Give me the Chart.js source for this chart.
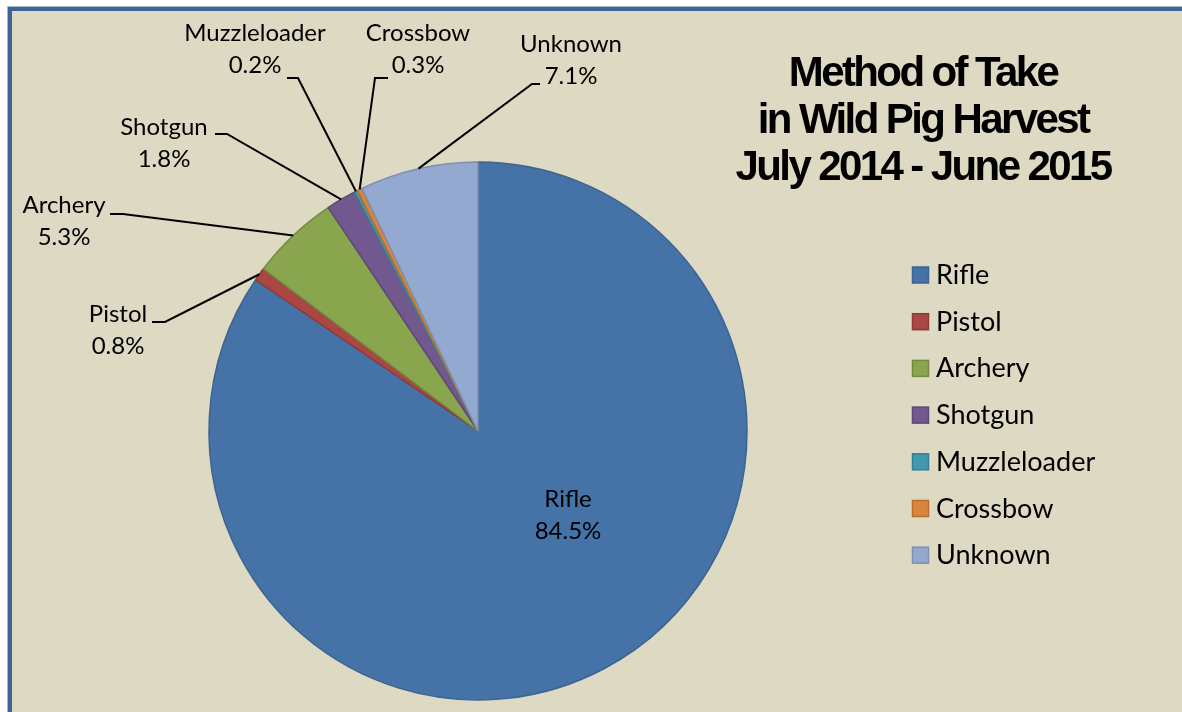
<!DOCTYPE html>
<html>
<head>
<meta charset="utf-8">
<script src="https://cdn.jsdelivr.net/npm/chart.js@4/dist/chart.umd.min.js"></script>
<style>
  html, body { margin: 0; padding: 0; background: #ffffff; overflow: hidden; width: 1182px; height: 712px; }
  #frame {
    position: absolute; left: 8px; top: 7px; width: 1400px; height: 900px;
    background: #ddd9c3; border: 4px solid #3e6494; box-shadow: 0 0 0 1px #a9b8cf;
  }
  #wrap { position: absolute; left: 0; top: 0; width: 1182px; height: 712px; }
</style>
</head>
<body>
<div id="frame"></div>
<div id="wrap"><canvas id="chart"></canvas></div>
<script>
// Data
const methods = ['Rifle', 'Pistol', 'Archery', 'Shotgun', 'Muzzleloader', 'Crossbow', 'Unknown'];
const shares = [84.5, 0.8, 5.3, 1.8, 0.2, 0.3, 7.1];
const titleLines = ['Method of Take', 'in Wild Pig Harvest', 'July 2014 - June 2015'];

const fills = ['#4572a7', '#aa4643', '#89a54e', '#71588f', '#4198af', '#db843d', '#93a9cf'];
const edges = ['#3c6391', '#8f3a37', '#728a40', '#5d4876', '#367f92', '#b86d31', '#7d91b4'];

// label placement: text centre x, first baseline, stub start x, stub end x (leader starts here), stub y
const labelSpots = [
    [568, 507, null, null, null],  // Rifle (inside)
    [118, 322, 152, 165, 322],
    [64, 213, 110, 123, 214],
    [164, 135, 215, 227, 134],
    [255, 41, 287, 298, 78],
    [418, 41, 388, 375, 78],
    [571, 52, 540, 532, 84]
];

const LABEL_FONT = '24px Lato, "Noto Sans", sans-serif';
const LEGEND_FONT = '27px Lato, "Noto Sans", sans-serif';

const labelsPlugin = {
    id: 'pieLabels',
    afterDatasetsDraw(chart) {
        const ctx = chart.ctx;
        const arcs = chart.getDatasetMeta(0).data;
        ctx.save();
        ctx.font = LABEL_FONT;
        ctx.fillStyle = '#000';
        ctx.textAlign = 'center';
        ctx.textBaseline = 'alphabetic';
        arcs.forEach((arc, i) => {
            const spot = labelSpots[i];
            const pct = shares[i].toFixed(1) + '%';
            ctx.fillText(methods[i], spot[0], spot[1]);
            ctx.fillText(pct, spot[0], spot[1] + 32);
            if (spot[2] === null) return;
            const p = arc.getProps(['x', 'y', 'startAngle', 'endAngle', 'outerRadius'], true);
            const mid = (p.startAngle + p.endAngle) / 2;
            const ex = p.x + Math.cos(mid) * p.outerRadius;
            const ey = p.y + Math.sin(mid) * p.outerRadius;
            ctx.beginPath();
            ctx.strokeStyle = '#000';
            ctx.lineWidth = 2;
            ctx.moveTo(spot[2], spot[4]);
            ctx.lineTo(spot[3], spot[4]);
            ctx.lineTo(ex, ey);
            ctx.stroke();
        });
        ctx.restore();
    }
};

const sidePlugin = {
    id: 'sideBits',
    afterDraw(chart) {
        const ctx = chart.ctx;
        ctx.save();
        // title
        ctx.fillStyle = '#000';
        ctx.font = 'bold 42px "Liberation Sans", Arial, sans-serif';
        ctx.letterSpacing = '-2.6px';
        ctx.textAlign = 'center';
        ctx.textBaseline = 'alphabetic';
        const titleBase = [86, 133, 180];
        titleLines.forEach((t, i) => ctx.fillText(t, 923, titleBase[i]));
        ctx.letterSpacing = '0px';

        // legend
        ctx.font = LEGEND_FONT;
        ctx.textAlign = 'left';
        methods.forEach((m, i) => {
            const y = 275 + i * 46.7;
            ctx.fillStyle = fills[i];
            ctx.fillRect(912.5, y - 8, 16, 16);
            ctx.strokeStyle = edges[i];
            ctx.lineWidth = 1.5;
            ctx.strokeRect(912.5, y - 8, 16, 16);
            ctx.fillStyle = '#000';
            ctx.fillText(m, 936, y + 9);
        });
        ctx.restore();
    }
};

new Chart(document.getElementById('chart'), {
    type: 'pie',
    data: {
        labels: methods,
        datasets: [{
            data: shares,
            backgroundColor: fills,
            borderColor: edges,
            borderWidth: 1.5,
            hoverOffset: 0
        }]
    },
    options: {
        responsive: true,
        maintainAspectRatio: false,
        animation: false,
        radius: 269,
        layout: { padding: { left: 0, right: 226, top: 150, bottom: 0 } },
        plugins: {
            legend: { display: false },
            title: { display: false },
            tooltip: { enabled: false }
        }
    },
    plugins: [labelsPlugin, sidePlugin]
});
</script>
</body>
</html>
